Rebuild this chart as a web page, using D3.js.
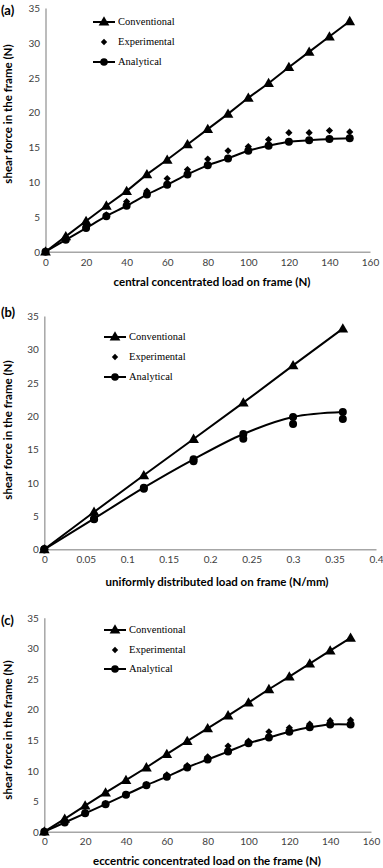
<!DOCTYPE html>
<html><head><meta charset="utf-8">
<script src="https://cdn.jsdelivr.net/npm/d3@7"></script>
<style>body{margin:0;background:#fff}svg{display:block}</style>
</head><body>
<script>
// ---- Data ----
const loadA = [0,10,20,30,40,50,60,70,80,90,100,110,120,130,140,150];
const convA = [0,2.2,4.4,6.6,8.7,11.1,13.2,15.4,17.6,19.8,22.1,24.2,26.5,28.7,30.9,33.1];
const expA  = [0,1.9,3.7,5.3,7.2,8.7,10.5,11.8,13.3,14.5,15.1,16.1,17.1,17.1,17.4,17.2];
const anaA  = [0,1.7,3.4,5.1,6.6,8.2,9.6,11.1,12.4,13.4,14.5,15.2,15.8,16.0,16.2,16.3];

const loadB = [0,0.06,0.12,0.18,0.24,0.30,0.36];
const convB = [0,5.6,11.1,16.55,22.0,27.6,33.1];
const expB  = [0,4.5,9.1,13.2,16.6,18.8,19.55];
const anaB  = [0,4.6,9.25,13.5,17.3,19.85,20.6];

const loadC = [0,10,20,30,40,50,60,70,80,90,100,110,120,130,140,150];
const convC = [0,2.1,4.25,6.4,8.45,10.5,12.7,14.8,16.9,19.0,21.1,23.3,25.35,27.5,29.6,31.7];
const expC  = [0,1.6,3.15,4.6,6.1,7.7,9.3,10.8,12.25,14.0,14.8,16.35,17.0,17.6,18.15,18.25];
const anaC  = [0,1.5,3.0,4.5,6.05,7.6,9.0,10.5,11.8,13.1,14.45,15.4,16.36,17.07,17.55,17.55];

const yTicks = [0,5,10,15,20,25,30,35];
const xTicksAC = [0,20,40,60,80,100,120,140,160];
const xTicksB = [0,0.05,0.1,0.15,0.2,0.25,0.3,0.35,0.4];
const legendNames = ["Conventional","Experimental","Analytical"];

const panels = [
  {tag:"(a)", x:loadA, conv:convA, exp:expA, ana:anaA, xDom:[0,160], xTicks:xTicksAC,
   xr:[45.5,370], yr:[251.7,8], tagY:10, xTitle:"central concentrated load on frame (N)",
   xTitleX:212, xTitleY:282, tickY:263, yTitleY:114, legX:93, legY:[22,42,62], expShape:"diamond"},
  {tag:"(b)", x:loadB, conv:convB, exp:expB, ana:anaB, xDom:[0,0.4], xTicks:xTicksB,
   xr:[44.3,376], yr:[549.3,316], tagY:312, xTitle:"uniformly distributed load on frame (N/mm)",
   xTitleX:217, xTitleY:582, tickY:559.5, yTitleY:430, legX:104, legY:[337,357,377], expShape:"circle"},
  {tag:"(c)", x:loadC, conv:convC, exp:expC, ana:anaC, xDom:[0,160], xTicks:xTicksAC,
   xr:[44.3,371], yr:[831.7,617.7], tagY:620, xTitle:"eccentric concentrated load on the frame (N)",
   xTitleX:207, xTitleY:861, tickY:841.7, yTitleY:730, legX:104, legY:[630,650,669], expShape:"diamond"}
];

const svg = d3.select("body").append("svg").attr("width",383).attr("height",868);
const tri = d3.symbol().type(d3.symbolTriangle).size(50);
const dia = d3.symbol().type(d3.symbolSquare).size(26);
const diaLeg = d3.symbol().type(d3.symbolSquare).size(20);

panels.forEach(p => {
  const g = svg.append("g");
  const x = d3.scaleLinear().domain(p.xDom).range(p.xr);
  const y = d3.scaleLinear().domain([0,35]).range(p.yr);
  const fmt = d3.format("~g");

  // axes
  const xAxis = d3.axisBottom(x).tickValues(p.xTicks).tickSize(0).tickFormat(fmt);
  const gx = g.append("g").attr("transform",`translate(0,${y(0)})`).call(xAxis);
  gx.select(".domain").attr("stroke","#a6a6a6").attr("stroke-width",1.5);
  gx.selectAll("text").attr("y", p.tickY - y(0)).attr("dy","0.35em")
    .attr("font-family","Lato, 'Open Sans', sans-serif").attr("font-size",10).attr("fill","#404040");

  const yAxis = d3.axisLeft(y).tickValues(yTicks).tickSize(0).tickFormat(fmt);
  const gy = g.append("g").attr("transform",`translate(${x(0)},0)`).call(yAxis);
  gy.select(".domain").attr("stroke","#a6a6a6").attr("stroke-width",1.5);
  gy.selectAll("text").attr("x", -5.5).attr("dy","0.35em")
    .attr("font-family","Lato, 'Open Sans', sans-serif").attr("font-size",10).attr("fill","#404040");

  // titles
  g.append("text").attr("x",1).attr("y",p.tagY).attr("dy","0.35em")
    .attr("font-family","Lato, 'Open Sans', sans-serif").attr("font-weight","bold").attr("font-size",13)
    .text(p.tag);
  g.append("text").attr("x",p.xTitleX).attr("y",p.xTitleY).attr("dy","0.35em").attr("text-anchor","middle")
    .attr("font-family","Lato, 'Open Sans', sans-serif").attr("font-weight","bold").attr("font-size",11.5)
    .text(p.xTitle);
  g.append("text").attr("transform",`translate(8,${p.yTitleY}) rotate(-90)`).attr("dy","0.35em")
    .attr("text-anchor","middle")
    .attr("font-family","Lato, 'Open Sans', sans-serif").attr("font-weight","bold").attr("font-size",11.5)
    .text("shear force in the frame (N)");

  const pts = (ys) => p.x.map((v,i)=>[x(v), y(ys[i])]);

  // conventional
  g.append("path").attr("d", d3.line()(pts(p.conv))).attr("fill","none").attr("stroke","#000").attr("stroke-width",2);
  // analytical smooth
  g.append("path").attr("d", d3.line().curve(d3.curveCatmullRom.alpha(0.5))(pts(p.ana)))
    .attr("fill","none").attr("stroke","#000").attr("stroke-width",2);

  // experimental markers
  pts(p.exp).forEach(([px,py]) => {
    if (p.expShape === "circle") g.append("circle").attr("cx",px).attr("cy",py).attr("r",4);
    else g.append("path").attr("d",dia()).attr("transform",`translate(${px},${py}) rotate(45)`);
  });
  // analytical markers
  pts(p.ana).forEach(([px,py]) => g.append("circle").attr("cx",px).attr("cy",py).attr("r",4));
  // conventional markers
  pts(p.conv).forEach(([px,py]) => g.append("path").attr("d",tri()).attr("transform",`translate(${px},${py+0.8})`));

  // legend
  const lx = p.legX, lw = 22;
  legendNames.forEach((name,i) => {
    const ly = p.legY[i];
    if (i !== 1) g.append("line").attr("x1",lx).attr("x2",lx+lw).attr("y1",ly).attr("y2",ly)
        .attr("stroke","#000").attr("stroke-width",2);
    if (i === 0) g.append("path").attr("d",tri()).attr("transform",`translate(${lx+lw/2},${ly+0.5})`);
    if (i === 1) g.append("path").attr("d",diaLeg()).attr("transform",`translate(${lx+lw/2},${ly}) rotate(45)`);
    if (i === 2) g.append("circle").attr("cx",lx+lw/2).attr("cy",ly).attr("r",3.8);
    g.append("text").attr("x",lx+lw+3).attr("y",ly).attr("dy","0.33em")
      .attr("font-family","'Liberation Serif', 'Times New Roman', serif").attr("font-size",10.5)
      .text(name);
  });
});
</script>
</body></html>
